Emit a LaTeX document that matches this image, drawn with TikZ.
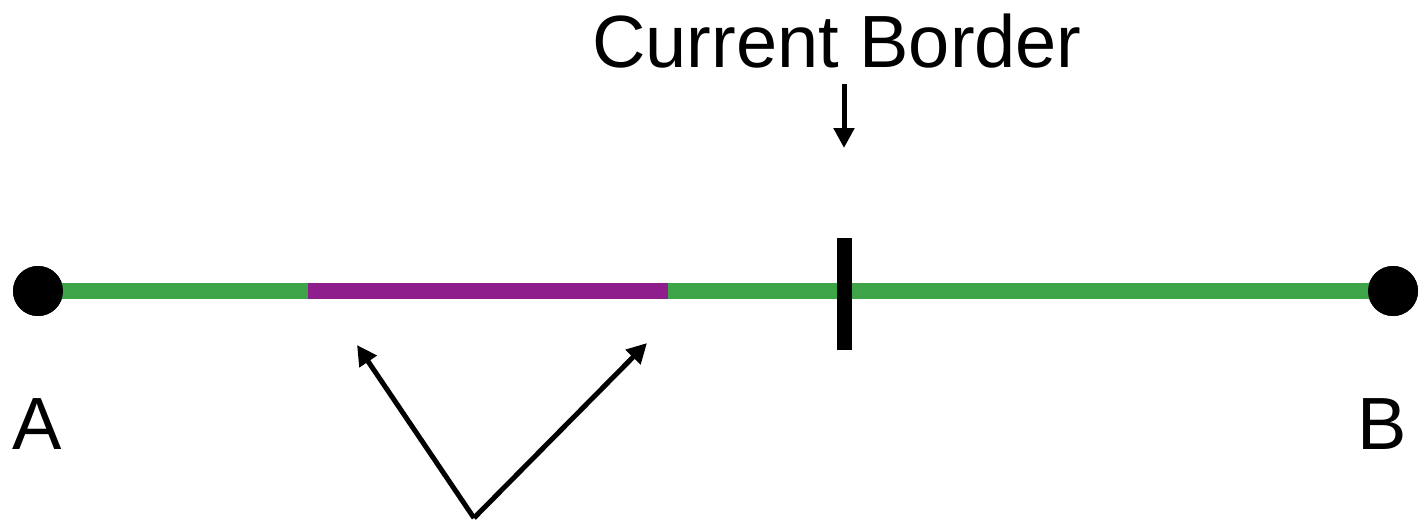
\documentclass[tikz,border=0pt]{standalone}
\usepackage{fontspec}
\setmainfont{Liberation Sans}
\usetikzlibrary{arrows.meta}
\definecolor{seggreen}{HTML}{3DA548}
\definecolor{segpurple}{HTML}{8E1E8C}
\tikzset{
  endpoint/.style={circle,fill=black,inner sep=0pt,minimum size=50pt},
  biglabel/.style={inner sep=0pt,font=\fontsize{74}{80}\selectfont},
  pointer/.style={line width=5pt,-{Triangle[length=20pt,width=20pt]}},
}
\begin{document}
\begin{tikzpicture}[x=1pt,y=-1pt]
\useasboundingbox (0,0) rectangle (1420,522);
\node[endpoint] (A) at (38,291) {};
\node[endpoint] (B) at (1393,291) {};
\draw[seggreen,line width=16pt] (A.center) -- (B.center);
\coordinate (p1) at (308,291);
\coordinate (p2) at (668,291);
\draw[segpurple,line width=16pt] (p1) -- (p2);
\node[endpoint] at (A) {};
\node[endpoint] at (B) {};
\coordinate (t1) at (844,238);
\coordinate (t2) at (844,350);
\draw[line width=15pt] (t1) -- (t2);
\node[biglabel,anchor=base] (cb) at (837,67) {Current Border};
\coordinate (d1) at (844,84);
\coordinate (d2) at (844,148);
\draw[pointer] (d1) -- (d2);
\node[biglabel,anchor=base] (la) at (37,449) {A};
\node[biglabel,anchor=base] (lb) at (1382,449) {B};
\coordinate (v) at (474,518);
\coordinate (q1) at (357,345);
\coordinate (q2) at (647,343);
\draw[pointer] (v) -- (q1);
\draw[pointer] (v) -- (q2);
\end{tikzpicture}
\end{document}
